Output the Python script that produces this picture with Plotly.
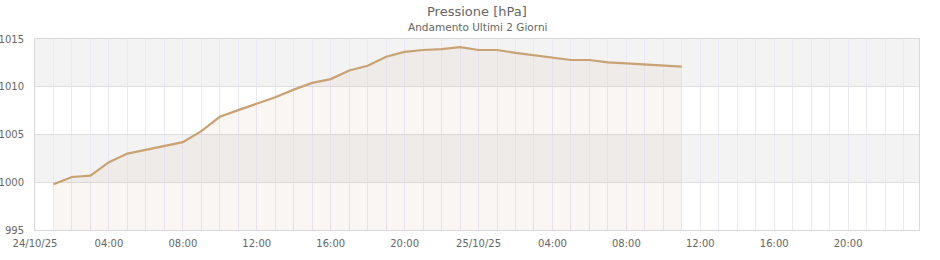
import plotly.graph_objects as go

# Data: hourly pressure readings (hPa)
times = [f"2025-10-24 {h:02d}:00" for h in range(1, 24)] + [f"2025-10-25 {h:02d}:00" for h in range(0, 12)]
pressure = [999.8, 1000.55, 1000.7, 1002.1, 1003.0, 1003.4, 1003.85, 1004.2, 1005.35,
            1006.85, 1007.55, 1008.25, 1008.9, 1009.7, 1010.4, 1010.8, 1011.7, 1012.2,
            1013.15, 1013.65, 1013.85, 1013.95, 1014.15, 1013.85, 1013.85, 1013.55,
            1013.3, 1013.1, 1012.8, 1012.8, 1012.55, 1012.45, 1012.35, 1012.2, 1012.1]

tick_vals = ["2025-10-24 00:00", "2025-10-24 04:00", "2025-10-24 08:00", "2025-10-24 12:00",
             "2025-10-24 16:00", "2025-10-24 20:00", "2025-10-25 00:00", "2025-10-25 04:00",
             "2025-10-25 08:00", "2025-10-25 12:00", "2025-10-25 16:00", "2025-10-25 20:00"]
tick_text = ["24/10/25", "04:00", "08:00", "12:00", "16:00", "20:00",
             "25/10/25", "04:00", "08:00", "12:00", "16:00", "20:00"]
y_ticks = [995, 1000, 1005, 1010, 1015]
bands = [(1000, 1005), (1010, 1015)]

fig = go.Figure()
fig.add_trace(go.Scatter(
    x=times, y=pressure, mode="lines",
    line=dict(color="#c9a273", width=2.2),
    fill="tozeroy", fillcolor="rgba(205,165,135,0.1)",
    hoverinfo="x+y",
))

for lo, hi in bands:
    fig.add_shape(type="rect", xref="paper", yref="y", x0=0, x1=1, y0=lo, y1=hi,
                  fillcolor="#f3f3f3", line_width=0, layer="below")

fig.add_annotation(text="Pressione [hPa]", xref="paper", yref="paper", x=0.5, y=1,
                   yshift=28, showarrow=False, xanchor="center", yanchor="middle",
                   font=dict(size=13, color="#666666"))
fig.add_annotation(text="Andamento Ultimi 2 Giorni", xref="paper", yref="paper", x=0.5, y=1,
                   yshift=12, showarrow=False, xanchor="center", yanchor="middle",
                   font=dict(size=10.5, color="#666666"))

fig.update_layout(
    width=940, height=260,
    margin=dict(l=35, r=21, t=39, b=30, autoexpand=False),
    paper_bgcolor="white", plot_bgcolor="white",
    font=dict(family="DejaVu Sans", color="#666666", size=10),
    showlegend=False,
    xaxis=dict(
        type="date", automargin=False,
        range=["2025-10-24 00:00", "2025-10-25 23:50"],
        tickvals=tick_vals, ticktext=tick_text,
        showgrid=True, gridcolor="#ebe8f8", gridwidth=1,
        minor=dict(dtick=3600000, showgrid=True, gridcolor="#ebe8f8", gridwidth=1),
        showline=True, linecolor="#d8d8d8", linewidth=1, mirror=True,
        ticks="", ticklabelstandoff=4, tickfont=dict(size=10, color="#666666"),
        zeroline=False,
    ),
    yaxis=dict(
        range=[995, 1015], automargin=False,
        tickvals=y_ticks,
        showgrid=True, gridcolor="#dddddd", gridwidth=1,
        showline=True, linecolor="#d8d8d8", linewidth=1, mirror=True,
        ticks="", ticklabelstandoff=8, tickfont=dict(size=10, color="#666666"),
        zeroline=False,
    ),
)

fig.write_html("out.html")
